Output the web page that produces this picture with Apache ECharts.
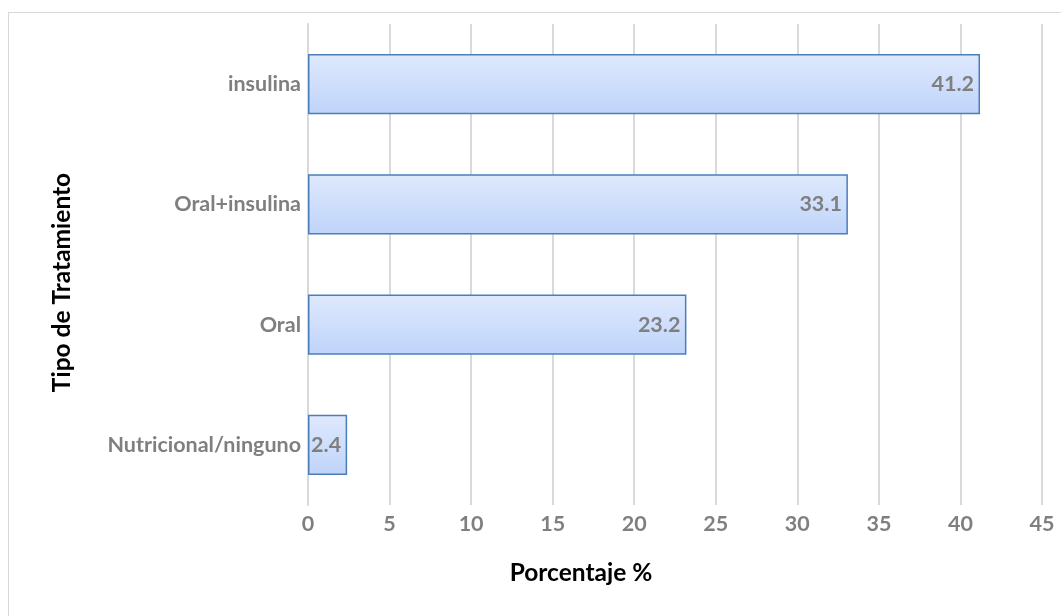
<!DOCTYPE html>
<html>
<head>
<meta charset="utf-8">
<script src="https://cdn.jsdelivr.net/npm/echarts@6/dist/echarts.min.js"></script>
<style>
  html, body { margin: 0; padding: 0; background: #fff; }
  #frame { position: absolute; left: 8px; top: 12px; width: 1070px; height: 620px; border: 1px solid #d9d9d9; box-sizing: border-box; }
  #main { position: absolute; left: 0; top: 0; width: 1061px; height: 616px; }
</style>
</head>
<body>
<div id="frame"></div>
<div id="main"></div>
<script>
// tipos de tratamiento (de abajo hacia arriba)
var categorias = ['Nutricional/ninguno', 'Oral', 'Oral+insulina', 'insulina'];
var porcentajes = [2.4, 23.2, 33.1, 41.2];

var myChart = echarts.init(document.getElementById('main'));
var option = {
  animation: false,
  textStyle: { fontFamily: 'Lato' },
  grid: {
    left: 308,
    right: 19,
    top: 24,
    bottom: 111
  },
  xAxis: {
    type: 'value',
    min: 0,
    max: 45,
    interval: 5,
    name: 'Porcentaje %',
    nameLocation: 'middle',
    nameGap: 56,
    // centrado en el area del grafico, no en la del eje
    nameTextStyle: { color: '#000', fontSize: 24.5, fontWeight: 'bold', padding: [0, 188, 0, 0] },
    axisLine: { show: false },
    axisTick: { show: false },
    axisLabel: { color: '#7f7f7f', fontSize: 21.5, fontWeight: 'bold', margin: 8 },
    splitLine: { show: true, lineStyle: { color: '#d9d9d9', width: 2 } }
  },
  yAxis: {
    type: 'category',
    data: categorias,
    name: 'Tipo de Tratamiento',
    nameLocation: 'middle',
    nameGap: 233,
    nameRotate: 90,
    nameTextStyle: { color: '#000', fontSize: 24.5, fontWeight: 'bold', padding: [0, 36, 0, 0] },
    axisLine: { show: true, lineStyle: { color: '#d9d9d9', width: 2 } },
    axisTick: { show: false },
    axisLabel: { color: '#7f7f7f', fontSize: 21.5, fontWeight: 'bold', margin: 7 }
  },
  series: [
    {
      type: 'bar',
      data: porcentajes,
      barWidth: '50%',
      itemStyle: {
        color: new echarts.graphic.LinearGradient(0, 0, 0, 1, [
          { offset: 0, color: '#dfe9fd' },
          { offset: 1, color: '#bfd4fa' }
        ]),
        borderColor: '#4a7ebb',
        borderWidth: 1.5
      },
      label: {
        show: true,
        position: 'insideRight',
        distance: 6,
        color: '#7f7f7f',
        fontSize: 21.5,
        fontWeight: 'bold',
        fontFamily: 'Lato'
      }
    }
  ]
};
myChart.setOption(option);
</script>
</body>
</html>
